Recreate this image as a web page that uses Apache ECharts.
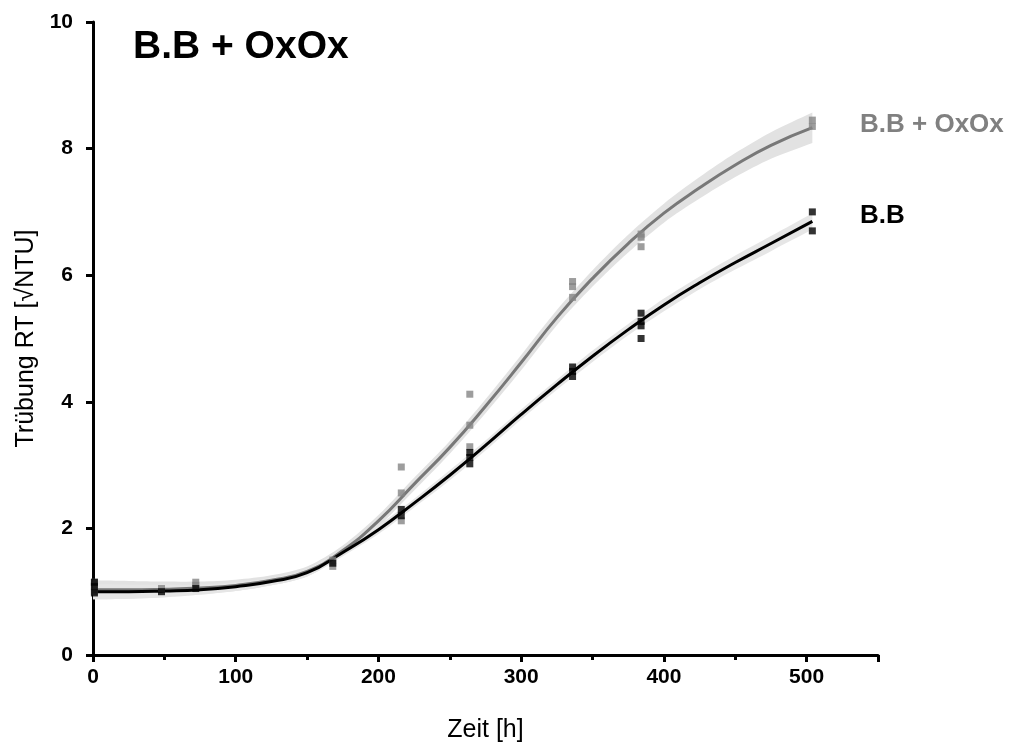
<!DOCTYPE html>
<html><head><meta charset="utf-8">
<script src="https://cdn.jsdelivr.net/npm/echarts@6/dist/echarts.min.js"></script>
<style>html,body{margin:0;padding:0;background:#fff}#c{width:1011px;height:743px}</style>
</head><body><div id="c"></div>
<script>
// Measured points: B.B + OxOx (gray)
const oxTimes  = [1,1,1,48,72,72,168,168,216,216,216,264,264,264,336,336,336,384,384,384,504,504];
const oxValues = [1.0,1.1,1.15,1.05,1.1,1.15,1.4,1.5,2.12,2.56,2.97,3.29,3.63,4.12,5.65,5.82,5.9,6.45,6.6,6.65,8.35,8.45];
// Measured points: B.B (black)
const bbTimes  = [1,1,1,48,72,168,216,216,264,264,264,336,336,336,384,384,384,384,504,504];
const bbValues = [0.98,1.08,1.15,1.0,1.05,1.45,2.2,2.3,3.02,3.12,3.2,4.4,4.48,4.55,5.0,5.2,5.27,5.4,6.7,7.0];
// Fitted curves
const fitTimes = [0,25,50,75,100,125,150,175,200,225,250,275,300,325,350,375,400,425,450,475,504];
const oxFit = [1.03,1.03,1.04,1.06,1.1,1.18,1.32,1.65,2.12,2.7,3.28,3.93,4.62,5.33,5.95,6.5,6.98,7.38,7.74,8.05,8.33];
const bbFit = [1.0,1.0,1.01,1.03,1.08,1.16,1.3,1.62,1.98,2.4,2.84,3.31,3.8,4.27,4.72,5.14,5.53,5.88,6.2,6.5,6.85];
// Confidence band half widths
const oxBand = [0.15,0.14,0.12,0.1,0.09,0.08,0.08,0.08,0.09,0.1,0.1,0.11,0.12,0.12,0.13,0.14,0.15,0.17,0.19,0.21,0.24];
const bbBand = [0.12,0.11,0.1,0.08,0.07,0.06,0.06,0.06,0.07,0.07,0.08,0.08,0.08,0.08,0.09,0.09,0.1,0.1,0.11,0.12,0.13];
const xTicks = {min:0, max:550, interval:100};
const yTicks = {min:0, max:10, interval:2};
const titleText = 'B.B + OxOx';
const labelOx = 'B.B + OxOx';
const labelBB = 'B.B';
const xName = 'Zeit [h]';
const yName = 'Trübung RT [√NTU]';

const pairs = (xs, ys) => xs.map((x,i)=>[x, ys[i]]);
const FONT = 'Liberation Sans, Arial, sans-serif';

const chart = echarts.init(document.getElementById('c'), null, {renderer:'canvas'});
const bandSeries = (fit, band, color) => ({
  type:'custom', silent:true, z:1, data:[0],
  renderItem:(params, api) => {
    const up = fitTimes.map((t,i)=>api.coord([t, fit[i]+band[i]]));
    const lo = fitTimes.map((t,i)=>api.coord([t, fit[i]-band[i]])).reverse();
    // duplicate the corner points so the smoothing keeps the band ends square
    const pts = [up[0]].concat(up, [up[up.length-1]], [lo[0]], lo, [lo[lo.length-1]]);
    return {type:'polygon', shape:{points:pts, smooth:0.3}, style:{fill:color}};
  }
});
chart.setOption({
  animation:false,
  backgroundColor:'#fff',
  textStyle:{fontFamily:FONT},
  grid:{left:93, right:133, top:22, bottom:88, containLabel:false, outerBoundsMode:'none'},
  graphic:[
    {type:'text', left:133, top:28, z:100, style:{text:titleText, font:'bold 39px '+FONT, fill:'#000'}},
    {type:'text', x:860, y:125, z:100, style:{text:labelOx, font:'bold 26px '+FONT, fill:'#808080', verticalAlign:'middle'}},
    {type:'text', x:860, y:216, z:100, style:{text:labelBB, font:'bold 26px '+FONT, fill:'#000', verticalAlign:'middle'}}
  ],
  xAxis:{type:'value', min:xTicks.min, max:xTicks.max, interval:xTicks.interval,
    name:xName, nameLocation:'middle', nameGap:63,
    nameTextStyle:{fontSize:25, color:'#000', fontFamily:FONT},
    axisLine:{lineStyle:{color:'#000', width:3}},
    axisTick:{show:true, length:7, lineStyle:{width:3, color:'#000'}},
    minorTick:{show:true, splitNumber:2, length:5, lineStyle:{width:3, color:'#000'}},
    axisLabel:{fontSize:21, fontWeight:'bold', color:'#000', margin:12, showMaxLabel:false,
      formatter:v=> v>500 ? '' : String(v)},
    splitLine:{show:false}},
  yAxis:{type:'value', min:yTicks.min, max:yTicks.max, interval:yTicks.interval,
    name:yName, nameLocation:'middle', nameGap:50, nameRotate:90,
    nameTextStyle:{fontSize:25, color:'#000', fontFamily:FONT},
    axisLine:{show:true, lineStyle:{color:'#000', width:3}},
    axisTick:{show:true, length:7, lineStyle:{width:3, color:'#000'}},
    axisLabel:{fontSize:21, fontWeight:'bold', color:'#000', margin:20},
    splitLine:{show:false}},
  series:[
    bandSeries(oxFit, oxBand, '#e2e2e2'),
    bandSeries(bbFit, bbBand, '#e6e6e6'),
    {type:'line', data:pairs(fitTimes, oxFit), smooth:true, symbol:'none',
     lineStyle:{color:'#787878', width:3}, z:3},
    {type:'line', data:pairs(fitTimes, bbFit), smooth:true, symbol:'none',
     lineStyle:{color:'#000', width:3}, z:3},
    {type:'scatter', data:pairs(oxTimes, oxValues), symbol:'rect', symbolSize:7,
     itemStyle:{color:'#858585'}, clip:false, z:4},
    {type:'scatter', data:pairs(bbTimes, bbValues), symbol:'rect', symbolSize:7,
     itemStyle:{color:'#000'}, clip:false, z:5}
  ]
});
</script></body></html>
